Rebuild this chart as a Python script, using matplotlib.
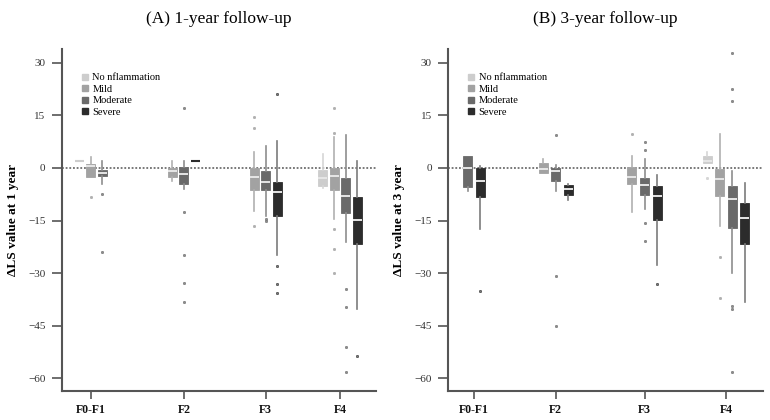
import matplotlib
matplotlib.use("Agg")
import matplotlib.pyplot as plt
from matplotlib.lines import Line2D

plt.rcParams['font.family'] = ['Liberation Serif', 'DejaVu Serif']

groups = ["F0-F1", "F2", "F3", "F4"]
levels = ["No nflammation", "Mild", "Moderate", "Severe"]
level_colors = ["#cdcdcd", "#a2a2a2", "#6a6a6a", "#2c2c2c"]
whisker_colors = ["#d6d6d6", "#b0b0b0", "#8e8e8e", "#7c7c7c"]

# x position of the group ticks (axis runs 0..314)
pos_1yr = [28.7, 122.0, 203.7, 278.0]
pos_3yr = [25.7, 107.3, 196.0, 277.3]

# ---- 1 year ----  (group index, level index, whisker lo, q1, median, q3, whisker hi)
yr1_group = [0, 0, 0, 1, 1, 1, 2, 2, 2, 3, 3, 3, 3]
yr1_level = [0, 1, 2, 1, 2, 3, 1, 2, 3, 0, 1, 2, 3]
yr1_lo = [1.9, -2.7, -4.5, -3.6, -5.9, 2.0, -12.3, -13.8, -24.7, -5.6, -14.7, -21.1, -40.2]
yr1_q1 = [1.9, -2.7, -2.4, -2.7, -4.6, 2.0, -6.4, -6.2, -13.8, -5.2, -6.2, -12.8, -21.8]
yr1_med = [1.9, 0.5, -1.5, -0.9, -1.8, 2.0, -2.6, -4.1, -6.9, -3.0, -2.3, -8.1, -14.8]
yr1_q3 = [1.9, 1.1, -0.6, 0.0, 0.3, 2.0, 0.0, -0.9, -4.0, -0.5, 0.0, -3.0, -8.2]
yr1_hi = [1.9, 3.2, 1.9, 2.0, 2.0, 2.0, 4.5, 6.2, 7.7, 4.1, 8.8, 9.5, 1.9]
yr1_out = [[], [-8.3], [-7.4, -24.0], [], [17.0, -12.6, -24.9, -32.7, -38.1], [],
           [14.4, 11.3, -16.5], [-14.6, -15.2], [21.1, -28.1, -33.2, -35.7],
           [], [17.2, 10.0, -17.4, -23.1, -29.9], [-34.5, -39.6, -51.1, -58.1], [-53.5]]

# ---- 3 year ----
yr3_group = [0, 0, 1, 1, 1, 2, 2, 2, 3, 3, 3, 3]
yr3_level = [2, 3, 1, 2, 3, 1, 2, 3, 0, 1, 2, 3]
yr3_lo = [-6.7, -17.3, -1.4, -6.7, -9.2, -12.6, -11.6, -27.8, 1.4, -16.7, -30.0, -38.1]
yr3_q1 = [-5.4, -8.3, -1.4, -3.6, -7.8, -4.7, -7.8, -14.8, 1.4, -7.9, -17.0, -21.8]
yr3_med = [0.0, -3.8, -0.3, -1.0, -5.9, -2.7, -4.9, -8.0, 1.9, -3.3, -9.0, -14.2]
yr3_q3 = [3.4, 0.0, 1.5, 0.0, -5.0, 0.3, -2.9, -5.1, 3.5, -0.3, -5.1, -10.0]
yr3_hi = [3.4, 0.6, 2.6, 0.8, -4.7, 3.3, 2.6, -2.0, 4.5, 9.8, -0.9, -4.3]
yr3_out = [[], [-35.0], [], [9.5, -30.9, -45.0], [], [9.7],
           [7.5, 5.1, -15.7, -20.9], [-33.2], [-2.9], [-25.4, -37.0],
           [32.7, 22.6, 19.0, -39.3, -40.3, -58.1], []]


def draw_panel(ax, title, ylabel, centers, grp, lev, lo, q1, med, q3, hi, out, step):
    for i in range(len(grp)):
        g = grp[i]
        members = [lev[k] for k in range(len(grp)) if grp[k] == g]
        slot = members.index(lev[i]) - (len(members) - 1) / 2
        x = centers[g] + slot * step
        c = level_colors[lev[i]]
        wc = whisker_colors[lev[i]]
        stats = [dict(whislo=lo[i], q1=q1[i], med=med[i], q3=q3[i], whishi=hi[i], fliers=out[i])]
        flat = q1[i] == q3[i]
        ax.bxp(stats, positions=[x], widths=9, patch_artist=True, showcaps=False,
               boxprops=dict(facecolor=c, edgecolor=c, linewidth=1.5 if flat else 0.6),
               medianprops=dict(color=c if flat else "#e6e6e6", linewidth=1.4),
               whiskerprops=dict(color=wc, linewidth=1.2),
               flierprops=dict(marker="o", markersize=1.7, markerfacecolor=wc,
                               markeredgecolor=c, markeredgewidth=0.4, linestyle="none"),
               manage_ticks=False, zorder=3)
    ax.axhline(0, color="#555555", linestyle=(0, (1.2, 1.2)), linewidth=1.1, zorder=2)
    ax.set_xlim(0, 314)
    ax.set_ylim(-63.6, 33.8)
    ax.set_yticks([30, 15, 0, -15, -30, -45, -60])
    ax.set_xticks(centers)
    ax.set_xticklabels(groups, fontweight="bold", fontsize=8.5)
    ax.tick_params(axis="y", labelsize=8, colors="#555555", labelcolor="#333333",
                   length=7, width=1.2, pad=5)
    ax.tick_params(axis="x", colors="#555555", labelcolor="#111111",
                   length=6, width=1.2, pad=3)
    for s in ["top", "right"]:
        ax.spines[s].set_visible(False)
    for s in ["left", "bottom"]:
        ax.spines[s].set_color("#555555")
        ax.spines[s].set_linewidth(1.5)
    ax.set_ylabel(ylabel, fontweight="bold", fontsize=9.6)
    ax.yaxis.set_label_coords(-0.138, 0.5)
    ax.set_title(title, fontsize=12.5, pad=19)
    handles = [Line2D([], [], marker="s", linestyle="none", markersize=4,
                      markerfacecolor=level_colors[k], markeredgecolor=level_colors[k])
               for k in range(4)]
    ax.legend(handles, levels, loc="upper left", bbox_to_anchor=(0.05, 0.943),
              frameon=False, fontsize=7.5, handlelength=0.6, handletextpad=0.4,
              labelspacing=0.22, borderaxespad=0)


fig = plt.figure(figsize=(7.7, 4.2), dpi=100)
ax1 = fig.add_axes([0.0805, 0.069, 0.4078, 0.8136])
ax2 = fig.add_axes([0.5822, 0.069, 0.4083, 0.8136])

draw_panel(ax1, "(A) 1-year follow-up", "\u0394LS value at 1 year", pos_1yr,
           yr1_group, yr1_level, yr1_lo, yr1_q1, yr1_med, yr1_q3, yr1_hi, yr1_out, 11.6)
draw_panel(ax2, "(B) 3-year follow-up", "\u0394LS value at 3 year", pos_3yr,
           yr3_group, yr3_level, yr3_lo, yr3_q1, yr3_med, yr3_q3, yr3_hi, yr3_out, 12.6)

fig.savefig("out.png", dpi=100)
